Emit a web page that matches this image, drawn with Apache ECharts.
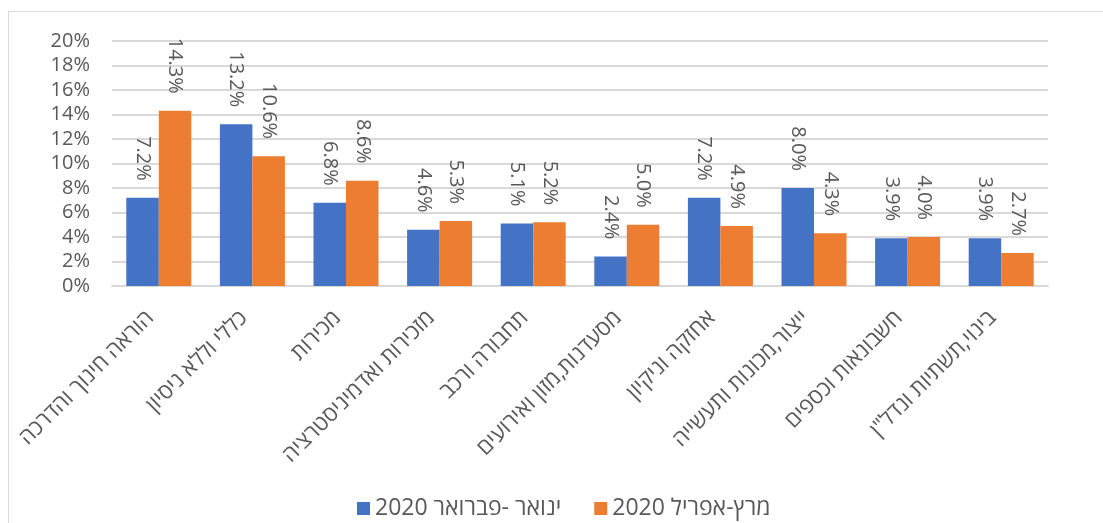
<!DOCTYPE html>
<html>
<head>
<meta charset="utf-8">
<script src="https://cdn.jsdelivr.net/npm/echarts@6/dist/echarts.min.js"></script>
<style>
  html, body { margin: 0; padding: 0; background: #fff; }
  #chart { width: 1103px; height: 523px; }
</style>
</head>
<body>
<div id="chart"></div>
<script>
// קטגוריות וערכים (אחוזים)
const categories = [
  'הוראה חינוך והדרכה',
  'כללי וללא ניסיון',
  'מכירות',
  'מזכירות ואדמיניסטרציה',
  'תחבורה ורכב',
  'מסעדנות,מזון ואירועים',
  'אחזקה וניקיון',
  'ייצור,מכונות ותעשייה',
  'חשבונאות וכספים',
  'בינוי,תשתיות ונדל"ן'
]
const janFeb = [7.2, 13.2, 6.8, 4.6, 5.1, 2.4, 7.2, 8.0, 3.9, 3.9]
const marApr = [14.3, 10.6, 8.6, 5.3, 5.2, 5.0, 4.9, 4.3, 4.0, 2.7]
const seriesNames = ['ינואר -פברואר 2020', 'מרץ-אפריל 2020']
const yTicks = { min: 0, max: 20, interval: 2 }

const font = '"Open Sans", "DejaVu Sans", sans-serif'
const textColor = '#595959'

const barLabel = {
  show: true,
  position: 'top',
  rotate: -90,
  align: 'right',
  verticalAlign: 'middle',
  distance: 17,
  color: textColor,
  fontSize: 20,
  fontFamily: font,
  formatter: (p) => p.value.toFixed(1) + '%'
}

const myChart = echarts.init(document.getElementById('chart'))
const options = {
  backgroundColor: '#fff',
  animation: false,
  graphic: [
    {
      type: 'rect',
      silent: true,
      shape: { x: 8.5, y: 11.5, width: 1100, height: 520 },
      style: { fill: 'none', stroke: '#d9d9d9', lineWidth: 1 }
    }
  ],
  grid: {
    left: 112,
    right: 55,
    top: 41,
    bottom: 237,
    outerBoundsMode: 'none'
  },
  legend: {
    left: 357,
    top: 497,
    padding: 0,
    icon: 'rect',
    itemWidth: 13,
    itemHeight: 13,
    itemGap: 33,
    textStyle: { color: textColor, fontSize: 23, fontFamily: font },
    data: seriesNames
  },
  xAxis: {
    type: 'category',
    data: categories,
    axisTick: { show: false },
    axisLine: { lineStyle: { color: '#d9d9d9', width: 2 } },
    axisLabel: {
      interval: 0,
      rotate: 45,
      margin: 20,
      padding: [0, 12, 0, 0],
      color: textColor,
      fontSize: 22,
      fontFamily: font
    }
  },
  yAxis: {
    type: 'value',
    min: yTicks.min,
    max: yTicks.max,
    interval: yTicks.interval,
    axisLine: { show: false },
    axisTick: { show: false },
    splitLine: { lineStyle: { color: '#d9d9d9', width: 2 } },
    axisLabel: {
      margin: 22,
      color: textColor,
      fontSize: 20,
      fontFamily: font,
      formatter: '{value}%'
    }
  },
  series: [
    {
      name: seriesNames[0],
      type: 'bar',
      data: janFeb,
      barWidth: 32.5,
      barGap: '0%',
      itemStyle: { color: '#4472C4' },
      label: barLabel
    },
    {
      name: seriesNames[1],
      type: 'bar',
      data: marApr,
      barWidth: 32.5,
      barGap: '0%',
      itemStyle: { color: '#ED7D31' },
      label: barLabel
    }
  ]
}
myChart.setOption(options)
</script>
</body>
</html>
